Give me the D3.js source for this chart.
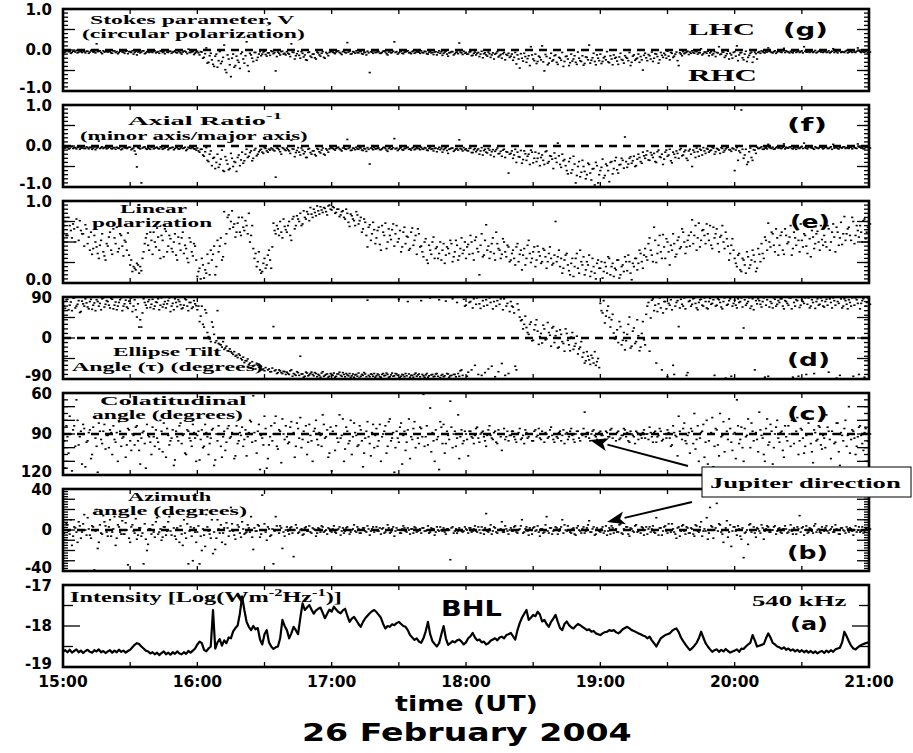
<!DOCTYPE html>
<html>
<head>
<meta charset="utf-8">
<script src="https://cdn.jsdelivr.net/npm/d3@7"></script>
<style>
  body { margin: 0; background: #fff; }
  svg { display: block; }
</style>
</head>
<body>
<svg id="chart" width="913" height="753"></svg>
<script>
// Samples are minutes after 15:00 UT: "A" series at whole minutes (0..360),
// "B" series at the half minutes that follow (0.5..360.5).
const timeTickLabels = ["15:00", "16:00", "17:00", "18:00", "19:00", "20:00", "21:00"];

// (g) Stokes parameter V (circular polarization)
const stokesV = [
  -.03,-.05,-.02,-.04,-.06,-.03,-.01,-.05,-.04,-.02,-.07,-.03,-.05,-.02,-.04,.15,-.03,-.06,-.02,-.04,
  -.05,-.03,-.08,-.02,-.04,-.06,-.01,-.05,-.03,-.09,-.04,-.02,-.06,-.12,-.03,-.05,-.02,-.07,-.04,-.03,
  -.06,-.02,-.05,-.08,-.03,-.04,-.01,-.06,-.03,-.05,-.02,-.07,-.04,-.10,-.03,-.05,.02,-.06,-.04,-.08,
  -.03,-.12,-.05,-.18,.05,-.30,-.08,-.35,-.15,-.42,-.04,-.28,.12,-.55,-.22,-.65,-.10,-.38,-.25,-.45,
  -.05,-.32,.20,-.52,-.12,-.28,-.06,-.18,-.04,-.10,-.03,-.15,-.07,-.02,-.09,-.51,-.05,-.12,-.03,-.08,
  -.04,-.10,.15,-.06,-.14,-.03,-.20,-.08,-.12,-.25,-.05,-.18,-.10,-.22,-.07,-.15,-.04,-.20,-.09,-.06,
  -.03,-.07,-.05,-.02,-.08,-.04,-.06,.18,-.03,-.09,-.05,-.02,-.07,-.04,-.10,-.06,-.03,-.55,-.05,-.02,
  -.06,-.04,-.08,-.03,-.05,-.12,-.02,-.06,.20,-.04,-.07,-.03,-.09,-.05,-.02,-.06,-.04,-.08,-.03,-.05,
  -.02,-.07,-.04,-.10,-.03,-.06,-.05,-.12,-.02,-.04,-.08,-.03,-.15,-.06,-.04,-.09,-.05,.17,-.07,-.03,
  -.06,-.10,-.04,-.13,-.05,-.08,-.16,-.03,-.09,-.12,-.05,-.18,-.07,-.10,-.04,-.14,-.20,-.06,-.11,-.08,
  -.15,-.25,-.06,-.12,-.44,-.20,-.08,-.30,-.14,.08,-.22,-.10,-.28,-.18,.10,-.51,-.16,-.32,-.08,-.24,
  -.12,-.35,-.20,-.06,-.28,-.15,-.38,-.10,-.22,-.30,-.05,-.26,-.14,-.33,-.18,.12,-.25,-.08,-.36,-.20,
  -.10,-.28,-.16,-.04,-.31,-.22,-.12,-.18,-.35,-.08,-.25,-.14,-.20,-.06,-.30,-.12,-.22,-.10,-.16,-.49,
  -.08,-.26,-.14,-.05,-.20,-.10,-.32,-.06,-.18,-.12,-.03,-.24,-.08,-.15,-.05,-.38,-.10,-.04,-.07,-.03,
  -.05,-.02,-.08,-.04,-.06,.03,-.09,-.05,-.03,-.07,-.12,-.04,-.06,.08,-.10,-.05,-.14,-.03,-.08,-.20,
  -.04,.10,-.12,-.06,-.24,-.03,-.18,-.08,-.30,-.05,-.22,-.04,-.02,-.06,-.03,.05,-.04,-.07,-.02,-.05,
  -.03,-.06,.04,-.02,-.05,-.03,-.07,-.01,-.04,-.06,-.02,.08,-.05,-.03,-.04,-.06,-.01,-.05,-.03,-.02,
  -.04,-.06,-.02,-.05,.03,-.03,-.07,-.02,-.04,-.06,-.01,-.05,-.03,-.02,-.06,.05,-.04,-.03,-.05,-.02,
  -.04
];
const stokesVB = [
  -.06,-.02,-.04,-.08,-.03,-.05,-.07,-.02,-.06,-.04,-.03,-.08,-.01,-.05,-.07,-.04,-.02,-.09,-.05,-.03,
  -.04,-.07,-.02,-.06,-.09,-.03,-.05,-.08,-.02,-.04,-.06,-.10,-.03,-.05,-.07,-.02,-.09,-.04,-.06,-.05,
  -.03,-.07,-.04,-.02,-.06,-.09,-.05,-.03,-.08,-.04,-.06,-.02,-.07,-.05,-.03,-.09,-.06,-.04,-.11,-.05,
  -.07,-.04,-.20,-.09,-.32,-.14,-.24,-.40,-.10,-.26,-.33,-.18,-.48,-.12,-.36,-.20,-.42,-.15,-.30,-.09,
  -.22,-.14,-.38,-.08,-.20,-.06,-.25,-.10,-.14,-.05,-.11,-.07,-.13,-.04,-.06,-.16,-.08,-.04,-.10,-.12,
  -.08,-.16,-.05,-.22,-.09,-.13,-.04,-.17,-.24,-.06,-.15,-.10,-.19,-.05,-.12,-.08,-.18,-.06,-.14,-.04,
  -.05,-.09,-.03,-.06,-.11,-.02,-.07,-.05,-.10,-.04,-.08,-.06,-.03,-.09,-.05,-.12,-.07,-.04,-.08,-.06,
  -.04,-.08,-.06,-.02,-.09,-.05,-.07,-.03,-.06,-.10,-.04,-.08,-.05,-.03,-.07,-.09,-.02,-.06,-.05,-.08,
  -.06,-.03,-.09,-.05,-.07,-.11,-.04,-.06,-.08,-.13,-.05,-.10,-.07,-.04,-.12,-.06,-.09,-.05,-.11,-.08,
  -.10,-.05,-.14,-.08,-.12,-.06,-.10,-.19,-.07,-.15,-.09,-.12,-.22,-.08,-.17,-.11,-.09,-.24,-.13,-.18,
  -.10,-.18,-.34,-.22,-.09,-.27,-.16,-.21,-.38,-.12,-.26,-.33,-.15,-.24,-.29,-.11,-.36,-.20,-.27,-.14,
  -.30,-.18,-.25,-.40,-.16,-.22,-.31,-.27,-.14,-.35,-.20,-.28,-.37,-.17,-.24,-.32,-.19,-.28,-.12,-.26,
  -.33,-.19,-.24,-.29,-.14,-.36,-.20,-.27,-.17,-.23,-.32,-.18,-.26,-.38,-.15,-.25,-.20,-.30,-.24,-.13,
  -.19,-.11,-.22,-.28,-.09,-.16,-.24,-.13,-.08,-.20,-.15,-.06,-.18,-.10,-.26,-.07,-.14,-.09,-.05,-.11,
  -.08,-.06,-.03,-.10,-.07,-.12,-.05,-.08,-.14,-.04,-.09,-.16,-.07,-.11,-.05,-.18,-.09,-.22,-.12,-.06,
  -.15,-.26,-.07,-.19,-.10,-.28,-.13,-.05,-.17,-.09,-.06,-.08,-.04,-.07,-.05,-.03,-.06,-.04,-.08,-.03,
  -.05,-.02,-.06,-.04,-.07,-.05,-.03,-.06,-.02,-.04,-.07,-.03,-.05,-.06,-.02,-.04,-.07,-.03,-.05,-.06,
  -.02,-.05,-.07,-.03,-.06,-.04,-.02,-.06,-.05,-.03,-.07,-.04,-.06,-.05,-.03,-.02,-.06,-.05,-.04,-.07,
  -.05
];

// (f) inverse axial ratio (minor axis / major axis)
const axialRatioInv = [
  -.02,-.05,-.03,-.06,-.01,-.04,-.07,-.03,-.05,-.02,-.06,-.04,-.03,-.08,-.02,-.05,.12,-.04,-.06,-.03,
  -.05,-.02,-.07,-.04,-.03,-.06,-.09,-.02,-.05,-.04,-.03,-.07,-.12,-.51,-.05,-.90,-.03,-.06,-.04,-.08,
  -.02,-.05,-.03,-.07,-.04,-.06,-.02,-.09,-.05,-.03,-.06,-.04,-.08,-.02,-.05,-.11,-.03,-.06,-.04,-.07,
  -.05,-.15,-.08,-.25,-.04,-.38,-.12,-.30,-.55,-.20,-.45,-.10,-.62,-.35,-.58,-.18,-.50,-.40,-.28,-.48,
  -.15,-.36,-.08,-.25,-.12,-.30,-.06,-.20,-.10,-.15,-.04,-.12,-.08,-.05,-.10,-.76,-.06,-.14,-.04,-.09,
  -.05,-.12,.14,-.08,-.16,-.04,-.22,-.10,-.14,-.28,-.06,-.20,-.12,-.24,-.08,-.17,-.05,-.22,-.10,-.07,
  -.04,-.08,-.06,-.03,-.09,-.05,-.07,.16,-.04,-.10,-.06,-.03,-.08,-.05,-.11,-.07,-.04,-.44,-.06,-.03,
  -.07,-.05,-.09,-.04,-.06,-.13,-.03,-.07,.18,-.05,-.08,-.04,-.10,-.06,-.03,-.07,-.05,-.09,-.04,-.06,
  -.03,-.08,-.05,-.11,-.04,-.07,-.06,-.14,-.03,-.05,-.09,-.04,-.18,-.07,-.05,-.10,-.06,.15,-.08,-.04,
  -.07,-.12,-.05,-.16,-.06,-.10,-.20,-.04,-.11,-.15,-.06,-.22,-.09,-.13,-.05,-.18,-.25,-.08,-.14,-.66,
  -.18,-.30,-.08,-.15,-.27,-.42,-.12,-.35,-.20,-.10,-.41,-.15,-.30,-.48,-.22,-.45,-.12,-.38,-.25,-.55,
  -.30,.07,-.45,-.20,-.33,-.60,-.38,-.66,-.25,-.90,-.50,-.75,-.35,-.62,-.70,-.45,-.83,-.55,-.40,-.90,
  -.60,-.32,-.72,-.48,-.87,-.38,-.55,-.28,-.66,-.45,-.35,.22,-.52,-.30,-.42,-.25,-.48,-.20,-.38,-.15,
  -.30,-.12,-.35,-.22,-.18,-.40,-.10,-.28,-.45,-.15,-.25,-.08,-.41,-.20,-.12,-.30,-.06,-.22,-.10,-.35,
  -.08,-.50,-.15,-.05,-.25,-.10,-.04,-.18,-.08,-.12,-.03,-.20,-.06,-.10,-.04,-.15,-.07,-.03,-.09,-.05,
  -.60,-.04,-.12,.88,-.30,-.08,-.39,-.05,-.35,-.10,-.03,-.06,-.02,-.08,-.04,.04,-.05,-.03,-.07,-.02,
  -.04,-.06,.05,-.03,-.05,-.02,-.07,-.04,-.03,-.06,-.01,.07,-.05,-.03,-.04,-.06,-.02,-.05,-.03,-.04,
  -.05,-.03,-.06,-.02,.04,-.04,-.06,-.03,-.05,-.02,-.04,-.06,-.03,-.01,-.05,.05,-.03,-.04,-.06,-.02,
  -.03
];
const axialRatioInvB = [
  -.05,-.03,-.07,-.02,-.06,-.04,-.03,-.08,-.05,-.06,-.02,-.07,-.04,-.05,-.09,-.03,-.06,-.02,-.04,-.07,
  -.03,-.06,-.04,-.08,-.05,-.02,-.07,-.04,-.06,-.03,-.09,-.05,-.20,-.04,-.07,-.05,-.02,-.08,-.06,-.03,
  -.07,-.04,-.06,-.02,-.08,-.05,-.03,-.06,-.04,-.09,-.02,-.07,-.05,-.06,-.03,-.08,-.05,-.04,-.07,-.10,
  -.12,-.08,-.22,-.14,-.35,-.20,-.48,-.28,-.40,-.52,-.32,-.60,-.26,-.44,-.55,-.30,-.38,-.62,-.22,-.34,
  -.42,-.20,-.28,-.16,-.36,-.10,-.24,-.14,-.08,-.18,-.06,-.15,-.10,-.07,-.12,-.05,-.09,-.20,-.06,-.11,
  -.09,-.18,-.07,-.26,-.11,-.15,-.05,-.19,-.28,-.08,-.16,-.12,-.21,-.06,-.14,-.10,-.20,-.07,-.15,-.05,
  -.06,-.10,-.04,-.07,-.12,-.03,-.08,-.06,-.11,-.05,-.09,-.07,-.04,-.10,-.06,-.13,-.08,-.05,-.09,-.07,
  -.05,-.09,-.07,-.03,-.10,-.06,-.08,-.04,-.07,-.11,-.05,-.09,-.06,-.04,-.08,-.10,-.03,-.07,-.06,-.09,
  -.07,-.04,-.10,-.06,-.08,-.12,-.05,-.07,-.09,-.15,-.06,-.11,-.08,-.05,-.13,-.07,-.10,-.06,-.12,-.09,
  -.11,-.06,-.16,-.09,-.14,-.07,-.12,-.22,-.08,-.17,-.10,-.14,-.26,-.09,-.19,-.13,-.10,-.28,-.15,-.20,
  -.12,-.22,-.40,-.26,-.11,-.33,-.19,-.25,-.45,-.15,-.30,-.38,-.18,-.28,-.35,-.14,-.42,-.24,-.32,-.17,
  -.40,-.24,-.52,-.36,-.48,-.68,-.30,-.58,-.44,-.72,-.38,-.64,-.50,-.80,-.42,-.66,-.56,-.95,-.48,-.70,
  -.52,-.78,-.44,-.60,-.40,-.68,-.36,-.58,-.46,-.30,-.54,-.38,-.44,-.26,-.36,-.50,-.32,-.28,-.42,-.24,
  -.22,-.34,-.16,-.28,-.38,-.14,-.26,-.20,-.32,-.10,-.22,-.36,-.15,-.28,-.18,-.09,-.24,-.14,-.30,-.12,
  -.20,-.10,-.28,-.14,-.08,-.22,-.12,-.06,-.15,-.10,-.05,-.14,-.08,-.18,-.06,-.11,-.04,-.09,-.13,-.07,
  -.10,-.35,-.16,-.08,-.22,-.45,-.14,-.28,-.09,-.18,-.06,-.04,-.08,-.05,-.07,-.03,-.06,-.08,-.04,-.05,
  -.06,-.03,-.07,-.05,-.02,-.06,-.04,-.08,-.05,-.03,-.06,-.04,-.07,-.02,-.05,-.08,-.04,-.06,-.03,-.07,
  -.03,-.06,-.04,-.08,-.05,-.03,-.07,-.04,-.02,-.06,-.05,-.03,-.07,-.04,-.06,-.02,-.05,-.07,-.03,-.04,
  -.05
];

// (e) degree of linear polarization
const linearPol = [
  .62,.75,.58,.70,.55,.66,.78,.52,.64,.60,.71,.48,.40,.35,.58,.44,.30,.52,.38,.28,
  .45,.62,.35,.55,.68,.42,.58,.33,.50,.61,.22,.14,.18,.24,.12,.15,.38,.55,.46,.62,
  .35,.50,.67,.40,.58,.32,.63,.45,.54,.38,.60,.28,.48,.55,.36,.42,.25,.50,.33,.45,
  .08,.18,.30,.06,.12,.24,.40,.35,.10,.52,.45,.28,.87,.60,.83,.75,.68,.56,.73,.62,
  .80,.64,.70,.85,.58,.42,.36,.26,.16,.14,.30,.22,.40,.18,.73,.60,.66,.75,.55,.69,
  .62,.75,.52,.81,.70,.78,.85,.72,.80,.87,.76,.84,.90,.82,.88,.93,.86,.91,.83,.95,
  .89,.92,.86,.90,.83,.88,.78,.85,.69,.82,.76,.87,.72,.80,.66,.74,.44,.71,.60,.65,
  .55,.68,.40,.62,.73,.50,.58,.65,.45,.70,.54,.38,.62,.48,.56,.42,.67,.52,.35,.60,
  .45,.32,.54,.24,.40,.50,.30,.44,.36,.28,.48,.34,.42,.52,.26,.38,.46,.33,.55,.40,
  .30,.47,.58,.36,.52,.42,.10,.60,.34,.71,.45,.38,.55,.28,.48,.40,.35,.50,.32,.44,
  .28,.40,.22,.48,.35,.16,.42,.30,.52,.25,.38,.20,.45,.33,.26,.40,.18,.36,.30,.24,
  .75,.32,.20,.12,.28,.36,.15,.24,.08,.30,.18,.40,.22,.10,.26,.34,.14,.20,.05,.28,
  .18,.06,.25,.12,.30,.20,.08,.16,.28,.10,.22,.32,.15,.26,.04,.20,.30,.24,.36,.18,
  .42,.28,.55,.34,.68,.25,.46,.38,.59,.30,.50,.22,.40,.48,.35,.56,.44,.62,.36,.52,
  .45,.77,.58,.40,.73,.52,.65,.48,.60,.70,.42,.55,.66,.38,.58,.50,.62,.45,.36,.54,
  .30,.20,.36,.14,.28,.12,.32,.22,.40,.26,.18,.35,.48,.30,.52,.73,.44,.60,.38,.55,
  .46,.62,.35,.58,.50,.70,.42,.55,.65,.38,.52,.60,.45,.68,.32,.56,.48,.63,.40,.53,
  .58,.44,.66,.50,.72,.38,.62,.55,.47,.81,.60,.68,.52,.75,.58,.64,.70,.50,.78,.62,
  .66
];
const linearPolB = [
  .70,.58,.80,.64,.72,.50,.68,.76,.60,.45,.66,.56,.62,.42,.50,.36,.46,.60,.33,.48,
  .56,.40,.66,.48,.38,.60,.45,.52,.40,.34,.28,.20,.16,.22,.20,.30,.48,.60,.40,.52,
  .62,.44,.56,.30,.52,.66,.38,.58,.42,.50,.34,.56,.40,.62,.46,.30,.55,.38,.48,.28,
  .14,.05,.22,.16,.35,.10,.28,.45,.20,.38,.55,.32,.48,.80,.66,.88,.72,.62,.80,.58,
  .68,.76,.60,.50,.70,.30,.20,.38,.12,.24,.18,.34,.28,.44,.64,.70,.58,.62,.78,.65,
  .70,.58,.78,.66,.82,.75,.70,.88,.78,.84,.92,.80,.86,.94,.84,.89,.92,.87,.94,.90,
  .93,.85,.90,.81,.87,.80,.90,.74,.84,.78,.70,.83,.76,.62,.78,.58,.68,.52,.74,.48,
  .64,.47,.70,.58,.42,.66,.53,.72,.60,.50,.64,.44,.68,.57,.40,.62,.46,.58,.66,.44,
  .38,.50,.28,.46,.35,.56,.42,.30,.50,.40,.24,.44,.36,.48,.32,.52,.28,.42,.36,.50,
  .44,.35,.50,.28,.56,.38,.46,.32,.52,.40,.30,.48,.36,.62,.42,.30,.54,.38,.46,.26,
  .36,.30,.44,.26,.40,.34,.22,.46,.36,.30,.44,.28,.38,.24,.42,.32,.26,.44,.22,.34,
  .26,.40,.30,.18,.34,.22,.10,.30,.20,.36,.12,.26,.32,.16,.22,.08,.30,.12,.24,.18,
  .26,.14,.20,.32,.10,.24,.18,.28,.06,.20,.14,.26,.34,.12,.24,.30,.16,.40,.26,.34,
  .32,.48,.40,.26,.52,.36,.58,.30,.44,.54,.38,.46,.60,.32,.52,.42,.66,.50,.44,.58,
  .62,.48,.70,.55,.44,.64,.58,.72,.52,.46,.68,.60,.48,.56,.70,.42,.54,.28,.46,.40,
  .24,.34,.16,.30,.22,.38,.18,.28,.34,.14,.42,.26,.36,.56,.40,.50,.62,.46,.66,.34,
  .58,.40,.66,.48,.56,.34,.62,.46,.52,.72,.44,.58,.36,.54,.64,.42,.60,.50,.70,.46,
  .50,.70,.40,.62,.56,.68,.46,.74,.60,.52,.66,.58,.80,.48,.70,.56,.62,.76,.54,.68,
  .72
];

// (d) ellipse tilt angle tau, degrees
const tiltAngle = [
  78,65,85,72,60,88,70,82,58,75,86,68,80,63,77,84,70,62,88,74,
  80,66,85,72,62,78,88,70,83,65,76,58,84,46,24,24,86,72,80,67,
  85,70,78,62,88,74,66,82,58,76,86,69,80,64,72,84,60,78,68,75,
  62,36,70,24,55,3,-8,24,-10,60,-14,-20,-25,-18,-29,-30,-36,-40,-43,-38,
  -48,-54,-50,-58,-65,-62,-68,-60,-66,-70,-72,90,-68,-74,25,-70,-76,-72,-78,-74,
  -75,-80,-70,-78,-82,-76,-40,-79,-84,-77,-81,-75,-83,-78,-80,-86,-74,-82,-79,-84,
  -80,-77,-84,-79,-82,-76,-85,-81,-78,-83,-86,-80,-77,-84,-82,-79,83,-85,-80,-78,
  -83,-81,-86,-78,-82,-80,-85,-77,-83,-79,85,-84,-81,-78,80,-86,-82,-80,-84,-79,
  82,-83,-81,-86,88,-80,-84,-78,84,-82,-85,81,-79,-83,86,-80,78,-84,-70,85,
  72,-75,80,66,-60,88,75,-82,70,84,-68,78,64,-85,82,74,-56,86,70,-78,
  80,68,-62,75,46,40,30,23,8,35,-5,29,15,3,-11,20,-2,12,-18,25,
  5,-22,18,-8,-29,10,-15,2,-25,-12,-35,-20,-42,-55,-30,-48,-38,-55,-60,-45,
  76,55,33,60,45,40,11,3,-10,25,-5,-26,8,46,-18,22,-8,5,-20,36,
  -15,70,-29,83,60,-55,75,66,55,80,-85,72,62,-80,78,25,85,70,64,-76,
  82,74,88,66,78,85,70,80,64,87,76,-82,72,84,68,80,-88,74,86,70,
  83,66,78,88,22,72,80,65,86,-70,75,82,68,88,72,-84,80,66,85,74,
  78,86,64,80,72,88,-86,70,82,67,84,76,-80,88,70,78,65,86,74,82,
  68,85,-75,78,88,72,80,-82,66,86,74,84,70,-84,88,76,64,82,-86,78,
  85
];
const tiltAngleB = [
  70,84,62,79,88,66,74,56,81,70,77,64,85,72,60,80,76,86,68,82,
  72,87,64,79,70,84,60,75,68,81,88,70,62,75,40,55,78,66,84,74,
  64,79,86,72,68,80,75,88,70,62,78,84,73,66,86,70,78,65,82,71,
  70,48,30,62,12,-2,35,8,-6,-12,-15,-8,-22,-28,-24,-33,-30,-38,-35,-45,
  -42,-50,-46,-55,-52,-60,-57,-64,-62,-68,-65,-70,-74,-66,-72,-78,-70,-76,-73,-80,
  -78,-72,-84,-80,-74,-82,-79,-86,-75,-83,-78,-80,-76,-85,-82,-77,-84,-80,-86,-78,
  -82,-86,-79,-75,-84,-80,-78,-83,-86,-79,-81,-84,-88,-80,-76,-85,-82,-79,-84,-86,
  -79,-85,-80,-83,-77,-86,-81,-84,-78,-82,-87,-80,-85,-83,-79,-82,-86,-77,-81,-85,
  -80,-86,-78,-83,-81,-85,-79,-84,-87,-80,-83,-78,-86,-82,-80,-85,-78,-72,-82,70,
  -84,78,-70,86,74,-80,65,82,-76,72,88,-62,80,70,-74,86,62,-82,76,58,
  70,55,-70,62,38,20,48,12,30,-6,18,40,-14,10,28,-4,34,6,22,-10,
  15,-20,8,-12,20,-5,-28,12,-18,4,-24,-8,-32,-50,-40,-58,-44,-30,-52,-65,
  60,82,48,70,24,52,-2,18,36,-15,12,-6,30,-22,15,-12,40,-28,10,-4,
  52,78,44,86,72,58,88,-70,80,64,76,84,-60,70,82,66,74,88,-82,80,
  70,86,76,62,84,72,88,66,80,74,84,70,86,78,64,88,72,82,-84,76,
  72,86,80,68,84,76,88,70,62,82,86,74,80,-86,84,68,76,88,70,82,
  86,70,82,76,88,64,78,84,-84,72,80,88,74,66,84,-78,80,72,88,70,
  80,72,86,66,82,-88,76,86,70,82,64,78,88,72,84,-80,76,86,70,88,
  74
];

// (c) colatitudinal angle of the source direction, degrees
const colatitude = [
  86,115,92,77,117,84,65,98,88,83,114,95,87,105,90,99,82,94,88,101,
  91,87,105,94,89,81,99,92,107,86,95,90,98,84,102,93,88,115,91,96,
  85,99,93,101,88,82,107,91,95,87,109,92,84,97,90,105,88,95,83,93,
  91,109,87,99,89,105,93,86,109,95,90,107,88,96,84,92,90,106,97,89,
  85,94,106,89,81,62,95,88,116,93,77,115,98,84,90,77,101,88,79,94,
  92,96,81,89,99,86,78,94,90,105,83,95,88,80,98,91,76,93,87,104,
  117,90,84,96,93,79,101,88,95,105,82,91,98,87,114,93,81,97,89,100,
  86,95,110,90,84,99,79,93,118,88,96,82,91,102,87,108,94,81,90,97,
  86,61,92,98,71,89,110,94,116,85,83,97,91,66,100,88,93,108,87,95,
  90,106,88,93,91,85,96,89,92,99,87,91,94,88,97,90,102,86,92,95,
  91,88,94,90,86,93,97,89,92,90,95,87,91,93,88,96,90,92,85,94,
  90,93,88,91,97,89,92,86,94,90,88,95,91,74,89,93,90,87,92,96,
  88,91,94,89,92,86,90,95,88,93,91,87,89,96,90,92,88,94,91,89,
  93,90,85,92,89,96,91,88,94,90,87,93,98,89,92,77,90,86,95,91,
  104,88,75,94,110,89,83,96,112,90,78,99,87,106,92,81,115,94,86,102,
  89,65,97,85,110,92,79,100,88,116,94,74,91,105,86,98,83,112,90,80,
  96,88,107,92,84,99,118,90,78,95,87,104,91,82,97,111,89,94,85,101,
  93,76,88,108,90,96,82,113,91,86,99,70,94,88,105,92,84,97,89,110,
  93
];
const colatitudeB = [
  95,84,104,90,87,99,80,92,112,86,96,89,108,85,93,118,88,97,83,91,
  100,89,84,96,110,88,93,79,98,87,102,91,85,95,112,89,97,83,92,105,
  92,87,96,80,103,90,86,98,93,113,88,95,82,91,104,87,93,99,89,110,
  88,94,100,83,92,97,87,113,90,84,99,92,102,86,93,89,108,84,95,91,
  99,87,92,80,96,89,104,83,91,98,86,108,92,95,82,99,87,111,90,84,
  97,85,90,107,82,93,100,88,84,96,91,110,86,94,89,99,83,92,107,85,
  88,102,93,76,91,110,85,97,80,92,89,99,84,95,104,88,92,106,83,91,
  99,83,92,88,104,81,95,89,100,93,85,112,88,96,79,92,86,100,93,85,
  92,99,84,90,103,95,87,92,81,97,104,88,94,85,90,99,76,92,97,88,
  94,88,92,97,86,93,90,88,95,91,84,93,89,96,87,92,90,94,88,91,
  88,92,96,89,94,91,87,93,90,95,88,92,86,94,90,89,93,87,91,96,
  92,89,95,87,90,94,88,91,96,88,93,90,86,92,89,95,88,91,94,89,
  91,95,88,92,87,93,90,89,94,91,86,92,95,88,91,97,89,90,93,87,
  90,94,89,96,88,92,86,95,90,93,89,99,84,91,106,88,94,82,97,89,
  86,97,101,84,93,88,107,80,95,89,114,86,98,75,91,103,88,79,96,90,
  108,84,94,100,86,91,118,82,95,89,103,87,93,110,79,96,88,100,85,93,
  89,102,84,95,90,80,97,88,105,86,93,99,78,90,103,87,95,84,98,91,
  100,85,94,88,97,82,103,89,95,80,91,104,87,93,99,85,91,102,86,95,
  90
];

// (b) azimuth angle of the source direction, degrees
const azimuth = [
  2,-10,5,-4,-15,3,-2,8,-8,6,0,12,-5,4,-39,20,-12,-3,14,4,
  -6,10,-2,13,-8,3,-4,-4,7,-34,-12,5,-3,-9,2,-6,-33,-9,-14,1,
  5,-7,12,-2,-10,3,-5,8,-1,16,-6,2,-12,-4,10,-8,-33,3,-30,-2,
  -2,-33,-20,-5,15,-1,-8,-23,-19,10,-3,-12,2,7,-6,22,-1,-9,5,-3,
  8,-4,-2,2,13,-19,-1,5,-7,34,6,-10,1,-5,-33,13,0,4,-18,-6,
  3,-4,3,-26,5,-3,0,-5,2,-1,4,-3,1,-6,2,-2,3,-1,-4,1,
  -2,4,-3,1,-5,2,-1,3,-4,0,5,-2,1,-3,2,-1,4,-5,1,-2,
  3,-1,-4,2,-2,5,-3,1,-6,2,0,-3,4,-1,2,-4,1,3,-2,0,
  -3,2,-1,4,-2,1,-5,3,-1,0,2,-4,1,-29,3,-1,-3,2,-1,-1,
  1,-3,2,-1,4,-2,0,3,-4,16,-2,5,-1,2,-3,0,8,-2,1,-4,
  2,-1,4,-3,1,10,-2,3,-5,0,2,-1,4,-6,1,-2,13,-3,2,-1,
  3,-4,1,10,5,-1,0,-3,2,-5,4,-1,1,-3,2,9,-2,3,-4,0,
  -2,3,-1,-5,2,4,-3,1,-2,6,-4,0,3,-6,1,-2,5,-1,-3,2,
  0,-4,3,1,-2,12,-5,2,-1,4,-3,0,6,-2,-8,3,-1,5,-4,2,
  -3,1,-6,4,-2,8,-1,-1,-9,22,3,0,26,6,-2,-12,2,-7,5,-1,
  3,-5,1,-9,-27,-2,-14,6,0,-3,2,-1,5,-9,1,3,-2,0,4,-1,
  2,-3,1,1,-2,5,-4,0,3,14,2,-5,4,-2,1,-3,6,0,-2,3,
  -1,4,-3,1,-2,5,0,-4,2,-1,3,-2,1,-5,4,0,-2,3,-1,2,
  0
];
const azimuthB = [
  -3,6,-1,10,-6,2,-12,4,-2,15,-5,1,-8,3,-1,-18,5,-4,8,-2,
  3,-6,1,-15,5,-2,9,-4,0,-8,3,-1,11,-5,2,-3,6,-20,1,-4,
  -2,8,-4,1,-7,3,-1,13,-5,2,-9,0,4,-15,-3,6,-1,-6,2,-12,
  4,-6,1,-16,3,-4,10,-2,-8,1,5,-3,-14,2,-1,6,-5,0,3,-7,
  1,-3,5,-2,-7,2,-1,4,-4,0,-2,3,-6,1,-1,4,-3,2,-2,0,
  -1,2,-3,0,2,-2,1,-4,3,-1,-2,2,0,-3,1,4,-2,0,2,-1,
  1,-2,0,3,-1,-3,2,0,-2,1,-1,3,-3,0,2,-2,1,-1,3,0,
  -1,2,1,-3,0,2,-2,3,-1,0,-3,1,2,-2,0,1,-3,2,-1,1,
  2,-1,0,-3,2,1,-2,0,3,-1,-2,1,0,2,-3,1,-1,0,-2,3,
  0,2,-2,1,-1,3,-3,0,2,-1,1,-4,3,-2,0,1,-2,4,-1,0,
  -1,3,-2,0,4,-3,1,-1,2,-4,3,0,-2,1,-3,5,-1,2,-4,0,
  2,-1,3,-3,0,4,-2,1,-4,2,0,-3,3,-1,5,-2,1,-5,2,-1,
  1,-3,4,-1,-4,2,0,-2,5,-3,1,3,-4,2,-1,4,-2,0,3,-5,
  3,1,-2,4,-3,0,2,-5,3,-1,6,-2,1,-4,2,-6,4,-1,3,-3,
  2,-4,5,-1,3,-6,1,12,-3,4,-8,2,-1,5,-4,0,9,-2,-16,3,
  -1,4,-6,2,-3,0,5,-2,3,-7,1,-3,2,-1,4,-2,0,3,-4,1,
  -2,1,4,-3,0,-1,2,-4,1,-2,3,0,-3,2,-1,4,-2,1,-3,0,
  2,-1,0,3,-2,1,-4,2,0,-3,1,2,-1,0,-2,3,-1,-3,1,0,
  1
];

// (a) intensity at 540 kHz, log10(W m^-2 Hz^-1), one value per minute
const intensity = [
  -18.62,-18.59,-18.64,-18.58,-18.65,-18.61,-18.57,-18.64,-18.60,-18.66,-18.61,-18.58,-18.63,-18.65,-18.59,-18.62,-18.57,-18.64,-18.61,-18.66,
  -18.62,-18.59,-18.65,-18.60,-18.64,-18.58,-18.63,-18.60,-18.65,-18.61,-18.58,-18.52,-18.46,-18.42,-18.44,-18.50,-18.55,-18.60,-18.62,-18.67,
  -18.64,-18.69,-18.65,-18.71,-18.66,-18.62,-18.69,-18.65,-18.70,-18.64,-18.68,-18.62,-18.67,-18.69,-18.64,-18.68,-18.61,-18.65,-18.60,-18.55,
  -18.45,-18.38,-18.42,-18.58,-18.62,-18.55,-18.50,-17.61,-18.55,-18.40,-18.32,-18.48,-18.35,-18.42,-18.28,-18.30,-18.13,-18.05,-17.99,-17.70,
  -17.28,-17.61,-17.90,-18.02,-18.10,-18.00,-18.08,-18.05,-18.33,-18.45,-18.20,-18.10,-18.40,-18.50,-18.56,-18.52,-18.50,-18.30,-17.85,-18.00,
  -18.10,-18.30,-18.18,-18.02,-18.10,-18.20,-17.80,-17.45,-17.61,-17.55,-17.49,-17.60,-17.70,-17.62,-17.58,-17.55,-17.68,-17.81,-17.70,-17.60,
  -17.65,-17.53,-17.60,-17.66,-17.69,-17.62,-17.58,-17.75,-17.90,-17.82,-17.78,-17.86,-17.95,-18.02,-17.90,-17.81,-17.75,-17.69,-17.64,-17.61,
  -17.66,-17.73,-17.80,-17.95,-18.06,-18.00,-18.02,-17.96,-17.98,-17.93,-17.90,-17.95,-18.00,-18.02,-18.10,-18.22,-18.28,-18.34,-18.30,-18.38,
  -18.41,-18.30,-18.13,-17.90,-18.20,-18.37,-18.44,-18.50,-18.42,-18.20,-18.00,-18.30,-18.46,-18.42,-18.37,-18.40,-18.35,-18.33,-18.38,-18.45,
  -18.40,-18.30,-18.25,-18.17,-18.28,-18.35,-18.33,-18.40,-18.38,-18.45,-18.42,-18.36,-18.33,-18.30,-18.35,-18.28,-18.26,-18.30,-18.22,-18.20,
  -18.17,-18.25,-18.33,-18.10,-17.93,-17.80,-17.70,-17.61,-17.85,-17.80,-17.73,-17.76,-17.65,-17.72,-17.89,-17.85,-17.95,-18.02,-17.90,-17.82,
  -17.73,-17.90,-18.05,-18.10,-17.95,-17.89,-17.98,-18.03,-18.06,-18.00,-17.95,-17.98,-18.02,-18.06,-18.10,-18.08,-18.14,-18.12,-18.18,-18.20,
  -18.22,-18.18,-18.15,-18.14,-18.10,-18.12,-18.10,-18.15,-18.18,-18.14,-18.08,-18.05,-18.02,-18.06,-18.10,-18.12,-18.15,-18.18,-18.20,-18.23,
  -18.25,-18.30,-18.26,-18.35,-18.42,-18.50,-18.40,-18.30,-18.26,-18.22,-18.20,-18.18,-18.12,-18.08,-18.06,-18.15,-18.28,-18.37,-18.45,-18.52,
  -18.59,-18.54,-18.48,-18.41,-18.30,-18.14,-18.28,-18.42,-18.50,-18.57,-18.63,-18.59,-18.57,-18.63,-18.58,-18.62,-18.56,-18.61,-18.65,-18.62,
  -18.60,-18.57,-18.63,-18.55,-18.56,-18.50,-18.45,-18.41,-18.22,-18.35,-18.50,-18.48,-18.46,-18.44,-18.30,-18.18,-18.28,-18.41,-18.45,-18.50,
  -18.52,-18.56,-18.52,-18.58,-18.55,-18.60,-18.57,-18.62,-18.58,-18.63,-18.59,-18.64,-18.60,-18.65,-18.61,-18.66,-18.62,-18.67,-18.63,-18.61,
  -18.66,-18.60,-18.64,-18.59,-18.63,-18.57,-18.55,-18.53,-18.40,-18.14,-18.25,-18.37,-18.48,-18.55,-18.57,-18.52,-18.48,-18.45,-18.43,-18.41,
  -18.40
];

// y-axis tick labels, top to bottom, for each panel
const ticksV = ["1.0", "0.0", "-1.0"];
const ticksAxial = ["1.0", "0.0", "-1.0"];
const ticksLinear = ["1.0", "0.0"];
const ticksTilt = ["90", "0", "-90"];
const ticksColat = ["60", "90", "120"];
const ticksAzimuth = ["40", "0", "-40"];
const ticksIntensity = ["-17", "-18", "-19"];

const SERIF = "'Liberation Serif', 'DejaVu Serif', 'Times New Roman', serif";
const SANS = "'DejaVu Sans', Verdana, sans-serif";

const svg = d3.select("#chart");
const xLeft = 63, xRight = 869;
const x = d3.scaleLinear().domain([0, 360]).range([xLeft, xRight]);
const panelTop0 = 9, panelStep = 96, panelH = 82;

const panels = [
  { id: "g", data: [stokesV, stokesVB],             ticks: ticksV,         domain: [-1, 1],   minor: 0.1,  major: 0.5,  ref: 0 },
  { id: "f", data: [axialRatioInv, axialRatioInvB], ticks: ticksAxial,     domain: [-1, 1],   minor: 0.1,  major: 0.5,  ref: 0 },
  { id: "e", data: [linearPol, linearPolB],         ticks: ticksLinear,    domain: [0, 1],    minor: 0.05, major: 0.25, ref: null },
  { id: "d", data: [tiltAngle, tiltAngleB],         ticks: ticksTilt,      domain: [-90, 90], minor: 10,   major: 45,   ref: 0 },
  { id: "c", data: [colatitude, colatitudeB],       ticks: ticksColat,     domain: [120, 60], minor: 5,    major: 10,   ref: 90 },
  { id: "b", data: [azimuth, azimuthB],             ticks: ticksAzimuth,   domain: [-40, 40], minor: 2.5,  major: 10,   ref: 0 },
  { id: "a", data: [intensity],                     ticks: ticksIntensity, domain: [-19, -17], minor: null, major: 0.5, ref: null, line: true }
];

// Text stretched horizontally to span [x0, x1]; parts = [[text, isSuperscript], ...]
function fitText(parent, parts, x0, x1, baseline, size, family, weight) {
  const t = parent.append("text")
    .attr("font-family", family)
    .attr("font-weight", weight)
    .attr("font-size", size)
    .attr("fill", "#000");
  let raised = false;
  parts.forEach(([str, sup]) => {
    const sp = t.append("tspan").text(str);
    if (sup) {
      sp.attr("font-size", size * 0.68);
      if (!raised) { sp.attr("dy", -size * 0.42); raised = true; }
    } else if (raised) {
      sp.attr("dy", size * 0.42); raised = false;
    }
  });
  const w = t.node().getBBox().width;
  t.attr("transform", `translate(${x0},${baseline}) scale(${(x1 - x0) / w},1)`);
  return t;
}

panels.forEach((p, i) => {
  const top = panelTop0 + i * panelStep, bottom = top + panelH;
  const y = d3.scaleLinear().domain(p.domain).range([bottom, top]);
  const g = svg.append("g").attr("class", "panel-" + p.id);
  const lo = Math.min(...p.domain), hi = Math.max(...p.domain);

  // measurements
  if (p.line) {
    const line = d3.line().x((d, k) => x(k)).y(d => y(d));
    g.append("path").datum(p.data[0])
      .attr("d", line)
      .attr("fill", "none").attr("stroke", "#000")
      .attr("stroke-width", 2.2).attr("stroke-linejoin", "round");
  } else {
    const pts = [];
    p.data.forEach((arr, s) => arr.forEach((v, k) => { if (v != null) pts.push({ t: k + s * 0.5, v }); }));
    g.append("g").selectAll("rect")
      .data(pts)
      .join("rect")
      .attr("x", d => x(d.t) - 1.1)
      .attr("y", d => y(d.v) - 0.8)
      .attr("width", 2.2).attr("height", 1.6)
      .attr("fill", "#000");
  }

  // reference dashed line
  if (p.ref != null) {
    g.append("line")
      .attr("x1", xLeft).attr("x2", xRight)
      .attr("y1", y(p.ref)).attr("y2", y(p.ref))
      .attr("stroke", "#000").attr("stroke-width", 2.4)
      .attr("stroke-dasharray", "8,6");
  }

  // y ticks on both sides
  const tickG = g.append("g").attr("stroke", "#000").attr("stroke-width", 1.3);
  const addYTick = (v, len) => {
    const yy = y(v);
    tickG.append("line").attr("x1", xLeft).attr("x2", xLeft + len).attr("y1", yy).attr("y2", yy);
    tickG.append("line").attr("x1", xRight).attr("x2", xRight - len).attr("y1", yy).attr("y2", yy);
  };
  if (p.minor) {
    const n = Math.round((hi - lo) / p.minor);
    d3.range(1, n).forEach(k => addYTick(lo + k * p.minor, 5));
  }
  const nMaj = Math.round((hi - lo) / p.major);
  d3.range(1, nMaj).forEach(k => {
    const v = lo + k * p.major;
    const len = p.line ? (Math.abs(v - Math.round(v)) < 1e-6 ? 17 : 10) : 12;
    addYTick(v, len);
  });

  // time ticks every 30 minutes, top and bottom
  d3.range(30, 360, 30).forEach(m => {
    const xx = x(m);
    tickG.append("line").attr("x1", xx).attr("x2", xx).attr("y1", bottom).attr("y2", bottom - 5);
    tickG.append("line").attr("x1", xx).attr("x2", xx).attr("y1", top).attr("y2", top + 5);
  });

  // frame
  g.append("rect")
    .attr("x", xLeft).attr("y", top)
    .attr("width", xRight - xLeft).attr("height", panelH)
    .attr("fill", "none").attr("stroke", "#000").attr("stroke-width", 2.6);

  // y tick labels (end labels pulled slightly inside the frame)
  g.append("g").selectAll("text")
    .data(p.ticks)
    .join("text")
    .attr("x", 52)
    .attr("y", (s, k) => {
      const yy = y(+s);
      if (k === 0) return yy + 1;
      if (k === p.ticks.length - 1) return yy - 3;
      return yy;
    })
    .attr("dy", "0.36em")
    .attr("text-anchor", "end")
    .attr("font-family", SANS).attr("font-weight", "bold").attr("font-size", 15)
    .text(s => s);
});

// time labels under the bottom panel
svg.append("g").selectAll("text")
  .data(timeTickLabels)
  .join("text")
  .attr("x", (s, k) => x(k * 60))
  .attr("y", 687)
  .attr("text-anchor", "middle")
  .attr("font-family", SANS).attr("font-weight", "bold").attr("font-size", 15.5)
  .text(s => s);

const ann = svg.append("g").attr("class", "annotations");

// panel descriptions (two stacked lines each)
fitText(ann, [["Stokes parameter, V", 0]], 90, 295, 24, 13.5, SERIF, "bold");
fitText(ann, [["(circular polarization)", 0]], 82, 305, 38, 13.5, SERIF, "bold");
fitText(ann, [["LHC", 0]], 688, 755, 35, 16, SERIF, "bold");
fitText(ann, [["RHC", 0]], 688, 757, 81, 16, SERIF, "bold");

fitText(ann, [["Axial Ratio", 0], ["-1", 1]], 128, 283, 125, 13.5, SERIF, "bold");
fitText(ann, [["(minor axis/major axis)", 0]], 80, 308, 140, 13.5, SERIF, "bold");

fitText(ann, [["Linear", 0]], 120, 187, 213, 13.5, SERIF, "bold");
fitText(ann, [["polarization", 0]], 92, 213, 227, 13.5, SERIF, "bold");

fitText(ann, [["Ellipse Tilt", 0]], 113, 222, 356, 13.5, SERIF, "bold");
fitText(ann, [["Angle (\u03c4) (degrees)", 0]], 72, 263, 371, 13.5, SERIF, "bold");

fitText(ann, [["Colatitudinal", 0]], 100, 247, 405, 13.5, SERIF, "bold");
fitText(ann, [["angle (degrees)", 0]], 92, 243, 419, 13.5, SERIF, "bold");

fitText(ann, [["Azimuth", 0]], 128, 212, 501, 13.5, SERIF, "bold");
fitText(ann, [["angle (degrees)", 0]], 92, 247, 515, 13.5, SERIF, "bold");

fitText(ann, [["Intensity [Log(Wm", 0], ["-2", 1], ["Hz", 0], ["-1", 1], [")]", 0]], 70, 342, 602, 15, SERIF, "bold");
fitText(ann, [["540 kHz", 0]], 752, 847, 606, 15, SERIF, "bold");
fitText(ann, [["BHL", 0]], 441, 502, 616, 22, SANS, "bold");

// panel letters
const letters = [["(g)", 783, 828, 36], ["(f)", 787, 827, 131], ["(e)", 790, 830, 228], ["(d)", 787, 830, 366],
                 ["(c)", 787, 828, 420], ["(b)", 787, 828, 559], ["(a)", 790, 828, 630]];
letters.forEach(([s, a, b, yy]) => fitText(ann, [[s, 0]], a, b, yy, 18, SANS, "bold"));

// axis title and date
fitText(ann, [["time (UT)", 0]], 395, 538, 711, 21, SANS, "bold");
fitText(ann, [["26 February 2004", 0]], 302, 632, 741, 25, SANS, "bold");

// "Jupiter direction" call-out with arrows into panels (c) and (b)
function arrow(x1, y1, x2, y2) {
  const ang = Math.atan2(y2 - y1, x2 - x1);
  const L = 18, Wd = 6.5;
  const bx = x2 - L * Math.cos(ang), by = y2 - L * Math.sin(ang);
  ann.append("line").attr("x1", x1).attr("y1", y1).attr("x2", bx).attr("y2", by)
    .attr("stroke", "#000").attr("stroke-width", 2);
  const px = -Math.sin(ang) * Wd, py = Math.cos(ang) * Wd;
  ann.append("path")
    .attr("d", `M${x2},${y2}L${bx + px},${by + py}L${bx + L * 0.25 * Math.cos(ang)},${by + L * 0.25 * Math.sin(ang)}L${bx - px},${by - py}Z`)
    .attr("fill", "#000");
}
arrow(688, 466, 590, 440);
arrow(692, 502, 607, 522);
ann.append("rect").attr("x", 702).attr("y", 467).attr("width", 209).attr("height", 30)
  .attr("fill", "#fff").attr("stroke", "#000").attr("stroke-width", 1);
fitText(ann, [["Jupiter direction", 0]], 710, 902, 488, 15, SERIF, "bold");
</script>
</body>
</html>
